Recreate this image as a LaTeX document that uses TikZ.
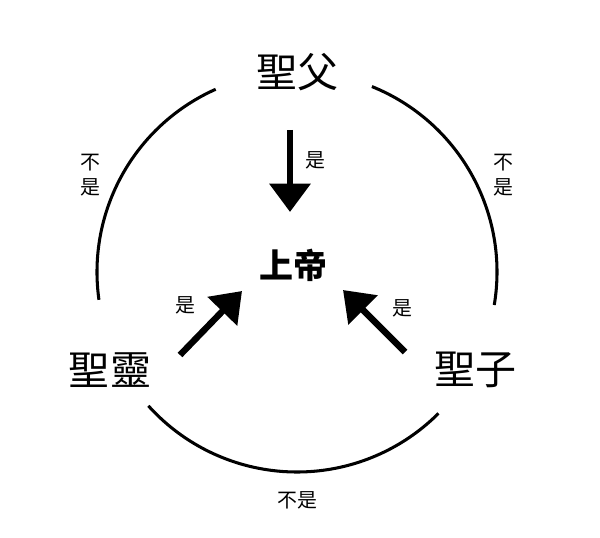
\documentclass[tikz,border=0pt]{standalone}
\usepackage{fontspec}
\setmainfont{Noto Sans CJK TC}
\usetikzlibrary{positioning, arrows.meta}

\begin{document}
\begin{tikzpicture}[
  x=0.03cm, y=0.03cm,
  >={Triangle[width=1.2cm, length=0.85cm]},
  person/.style={font=\fontsize{35}{37}\selectfont},
  god/.style={font=\fontsize{29}{31}\selectfont\bfseries},
  islabel/.style={font=\fontsize{17}{19}\selectfont},
  notlabel/.style={font=\fontsize{17}{21}\selectfont, align=center},
  ring/.style={line width=2.6pt},
  isarrow/.style={->, line width=5.5pt}
]
\useasboundingbox (0,0) rectangle (600,537);
% Persons and God
\coordinate (c) at (297,265);
\node[person] (father) at (297,465) {聖父};
\node[person] (spirit) at (110,167) {聖靈};
\node[person] (son) at (475,167) {聖子};
\node[god] (god) at (293,272) {上帝};

% Outer ring: "is not"
\draw[ring] ([shift={(114:200)}]c) arc (114:188:200);
\draw[ring] ([shift={(68:200)}]c) arc (68:-9.5:200);
\draw[ring] ([shift={(222:200)}]c) arc (222:315:200);
\node[notlabel] (notfs) at (90,362) {不\\是};
\node[notlabel] (notfson) at (503,362) {不\\是};
\node[notlabel] (notss) at (297,37) {不是};

% Arrows: "is"
\coordinate (fTail) at (290,407);
\coordinate (fHead) at (290,325);
\coordinate (sTail) at (180,182);
\coordinate (sHead) at (242,246);
\coordinate (nTail) at (405,185);
\coordinate (nHead) at (343,247);
\draw[isarrow] (fTail) -- (fHead);
\draw[isarrow] (sTail) -- (sHead);
\draw[isarrow] (nTail) -- (nHead);
\node[islabel] (isf) at (315,377) {是};
\node[islabel] (iss) at (185,232) {是};
\node[islabel] (isn) at (402,229) {是};
\end{tikzpicture}
\end{document}
